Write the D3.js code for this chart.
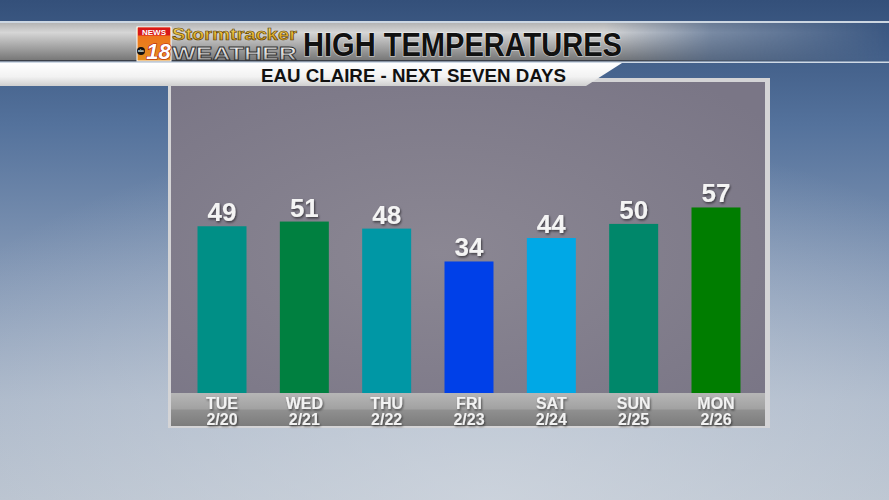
<!DOCTYPE html>
<html lang="en">
<head>
<meta charset="utf-8">
<title>High Temperatures - Eau Claire</title>
<script src="https://cdn.jsdelivr.net/npm/d3@7"></script>
<style>
  body { margin: 0; overflow: hidden; background: #3a5478; }
  .valueLabel {
    font-family: "Liberation Sans", Arial, sans-serif;
    font-weight: bold;
    font-size: 26px;
    fill: #f4f4f4;
    text-anchor: middle;
  }
  .dayLabel {
    font-family: "Liberation Sans", Arial, sans-serif;
    font-weight: bold;
    font-size: 16px;
    fill: #f2f2f2;
    text-anchor: middle;
  }
  .title {
    font-family: "Liberation Sans Narrow", "Liberation Sans", Arial, sans-serif;
    font-weight: bold;
    fill: #111;
  }
</style>
</head>
<body>
<script>

  //Chart data
  var days = ["TUE", "WED", "THU", "FRI", "SAT", "SUN", "MON"];
  var dates = ["2/20", "2/21", "2/22", "2/23", "2/24", "2/25", "2/26"];
  var highs = [49, 51, 48, 34, 44, 50, 57];
  var barColors = ["#008f86", "#008040", "#0097a5", "#0040e8", "#00a8e6", "#00876a", "#007d00"];
  var titleText = "HIGH TEMPERATURES";
  var subtitleText = "EAU CLAIRE - NEXT SEVEN DAYS";

  var w = 889;
  var h = 500;

  //Panel box
  var panel = { x0: 168, x1: 770, y0: 78, y1: 428 };
  var plotTop = 82, plotBottom = 393, stripBottom = 426;

  var svg = d3.select("body")
    .append("svg")
    .attr("width", w)
    .attr("height", h);

  var defs = svg.append("defs");

  function linGrad(id, x2, y2, stops) {
    var g = defs.append("linearGradient").attr("id", id)
      .attr("x1", 0).attr("y1", 0).attr("x2", x2).attr("y2", y2);
    stops.forEach(function(s) {
      g.append("stop").attr("offset", s[0]).attr("stop-color", s[1])
        .attr("stop-opacity", s[2] == null ? 1 : s[2]);
    });
    return g;
  }

  linGrad("sky", 0, 1, [[0, "#34507a"], [0.25, "#54729c"], [0.55, "#8599b6"], [0.8, "#a9b6c8"], [1, "#b6c0cd"]]);
  linGrad("silver", 0, 1, [[0, "#b4b4b4"], [0.25, "#d6d6d6"], [0.6, "#a8a8a8"], [1, "#747474"]]);
  linGrad("fadeRight", 1, 0, [[0, "#fff"], [0.68, "#fff"], [0.8, "#fff", 0.4], [1, "#fff", 0]]);
  linGrad("whiteBand", 0, 1, [[0, "#ffffff"], [0.6, "#f2f2f2"], [1, "#cfcfcf"]]);
  linGrad("strip", 0, 1, [[0, "#b6b6b6"], [0.47, "#a2a2a2"], [0.53, "#8f8f8f"], [1, "#7c7c7c"]]);
  linGrad("gold", 0, 1, [[0, "#fbe68a"], [0.5, "#e6b830"], [1, "#b8801a"]]);
  linGrad("chrome", 0, 1, [[0, "#ffffff"], [0.5, "#d8d8d8"], [1, "#9a9a9a"]]);
  linGrad("logoBox", 0, 1, [[0, "#f26a1c"], [1, "#e3901e"]]);

  var glow = defs.append("radialGradient").attr("id", "glow")
    .attr("cx", 0.55).attr("cy", 1).attr("r", 0.75);
  glow.append("stop").attr("offset", 0).attr("stop-color", "#d4dae2").attr("stop-opacity", 0.7);
  glow.append("stop").attr("offset", 1).attr("stop-color", "#d4dae2").attr("stop-opacity", 0);

  var panelGlow = defs.append("radialGradient").attr("id", "panelGlow")
    .attr("cx", 0.45).attr("cy", 0.55).attr("r", 0.7);
  panelGlow.append("stop").attr("offset", 0).attr("stop-color", "#8b8793");
  panelGlow.append("stop").attr("offset", 1).attr("stop-color", "#7a7686");

  var mask = defs.append("mask").attr("id", "headerMask");
  mask.append("rect").attr("x", 0).attr("y", 0).attr("width", w).attr("height", h)
    .attr("fill", "url(#fadeRight)");

  var shadow = defs.append("filter").attr("id", "shadow")
    .attr("x", -0.3).attr("y", -0.3).attr("width", 1.6).attr("height", 1.6);
  shadow.append("feDropShadow").attr("dx", 1).attr("dy", 1.5)
    .attr("stdDeviation", 1).attr("flood-color", "#000").attr("flood-opacity", 0.55);

  //Background
  svg.append("rect").attr("width", w).attr("height", h).attr("fill", "url(#sky)");
  svg.append("rect").attr("width", w).attr("height", h).attr("fill", "url(#glow)");

  //Header bar
  svg.append("rect").attr("x", 0).attr("y", 21).attr("width", w).attr("height", 2)
    .attr("fill", "#e6ecf2").attr("opacity", 0.85);
  svg.append("rect").attr("x", 0).attr("y", 23).attr("width", w).attr("height", 38)
    .attr("fill", "url(#silver)").attr("mask", "url(#headerMask)");
  svg.append("rect").attr("x", 0).attr("y", 60).attr("width", w).attr("height", 1.5)
    .attr("fill", "#3a3f48").attr("mask", "url(#headerMask)");
  svg.append("rect").attr("x", 0).attr("y", 61.5).attr("width", w).attr("height", 1.5)
    .attr("fill", "#e8eef4").attr("opacity", 0.85);

  //Logo
  var logo = svg.append("g");
  logo.append("rect").attr("x", 137).attr("y", 27).attr("width", 34).attr("height", 34)
    .attr("fill", "url(#logoBox)").attr("stroke", "#fff").attr("stroke-width", 1);
  logo.append("rect").attr("x", 138).attr("y", 27.5).attr("width", 32).attr("height", 8)
    .attr("fill", "#d81818");
  logo.append("text").attr("x", 154).attr("y", 34.5)
    .attr("text-anchor", "middle")
    .style("font", "bold 8px 'Liberation Sans', Arial, sans-serif")
    .attr("fill", "#fff").text("NEWS");
  logo.append("text").attr("x", 158.5).attr("y", 59)
    .attr("text-anchor", "middle")
    .style("font", "italic bold 22px 'Liberation Sans', Arial, sans-serif")
    .attr("fill", "#fff").attr("stroke", "#b01010").attr("stroke-width", 1.2)
    .attr("paint-order", "stroke").text("18");
  logo.append("circle").attr("cx", 141).attr("cy", 51).attr("r", 4).attr("fill", "#111");
  logo.append("text").attr("x", 141).attr("y", 52.3).attr("text-anchor", "middle")
    .style("font", "bold 3.5px 'Liberation Sans', Arial, sans-serif")
    .attr("fill", "#fff").text("abc");
  logo.append("text").attr("x", 172).attr("y", 40)
    .attr("textLength", 125).attr("lengthAdjust", "spacingAndGlyphs")
    .style("font", "bold 17px 'Liberation Sans', Arial, sans-serif")
    .attr("fill", "url(#gold)").attr("stroke", "#5a3c00").attr("stroke-width", 0.6)
    .text("Stormtracker");
  logo.append("text").attr("x", 172).attr("y", 59.5)
    .attr("textLength", 125).attr("lengthAdjust", "spacingAndGlyphs")
    .style("font", "bold 18px 'Liberation Sans', Arial, sans-serif")
    .attr("fill", "url(#chrome)").attr("stroke", "#333").attr("stroke-width", 0.8)
    .text("WEATHER");

  //Title
  svg.append("text").attr("class", "title")
    .attr("x", 303).attr("y", 56)
    .attr("textLength", 319).attr("lengthAdjust", "spacingAndGlyphs")
    .style("font-size", "34px")
    .attr("stroke", "#fff").attr("stroke-width", 1.5).attr("stroke-opacity", 0.5)
    .attr("paint-order", "stroke")
    .text(titleText);

  //Panel frame and plot area
  svg.append("rect").attr("x", panel.x0).attr("y", panel.y0)
    .attr("width", panel.x1 - panel.x0).attr("height", panel.y1 - panel.y0)
    .attr("fill", "#d4d4d6");
  svg.append("rect").attr("x", 171).attr("y", plotTop)
    .attr("width", 765 - 171).attr("height", plotBottom - plotTop)
    .attr("fill", "url(#panelGlow)");
  svg.append("rect").attr("x", 171).attr("y", plotBottom)
    .attr("width", 765 - 171).attr("height", stripBottom - plotBottom)
    .attr("fill", "url(#strip)");

  //Subtitle band (drawn over the panel top)
  svg.append("path")
    .attr("d", "M0,63 L622,63 L586,86 L0,86 Z")
    .attr("fill", "url(#whiteBand)");
  svg.append("text").attr("class", "title")
    .attr("x", 261).attr("y", 82)
    .attr("textLength", 305).attr("lengthAdjust", "spacingAndGlyphs")
    .style("font-size", "19px")
    .text(subtitleText);

  //Scales
  var xScale = d3.scaleBand()
    .domain(days)
    .range([171, 767])
    .paddingInner(0.405)
    .paddingOuter(0.322);

  var yScale = d3.scaleLinear()
    .domain([-22, 110])
    .range([plotBottom, 83]);

  //Bars
  svg.selectAll("rect.bar")
    .data(highs)
    .enter()
    .append("rect")
    .attr("class", "bar")
    .attr("x", function(d, i) { return xScale(days[i]); })
    .attr("y", function(d) { return yScale(d); })
    .attr("width", xScale.bandwidth())
    .attr("height", function(d) { return plotBottom - yScale(d); })
    .attr("fill", function(d, i) { return barColors[i]; });

  //Value labels
  svg.selectAll("text.valueLabel")
    .data(highs)
    .enter()
    .append("text")
    .attr("class", "valueLabel")
    .attr("filter", "url(#shadow)")
    .attr("x", function(d, i) { return xScale(days[i]) + xScale.bandwidth() / 2; })
    .attr("y", function(d) { return yScale(d) - 5; })
    .text(function(d) { return d; });

  //Day and date labels
  var labels = svg.selectAll("g.day")
    .data(days)
    .enter()
    .append("g")
    .attr("class", "day")
    .attr("filter", "url(#shadow)")
    .attr("transform", function(d) {
      return "translate(" + (xScale(d) + xScale.bandwidth() / 2) + ",0)";
    });

  labels.append("text").attr("class", "dayLabel").attr("y", 409)
    .text(function(d) { return d; });
  labels.append("text").attr("class", "dayLabel").attr("y", 425)
    .text(function(d, i) { return dates[i]; });

</script>
</body>
</html>
